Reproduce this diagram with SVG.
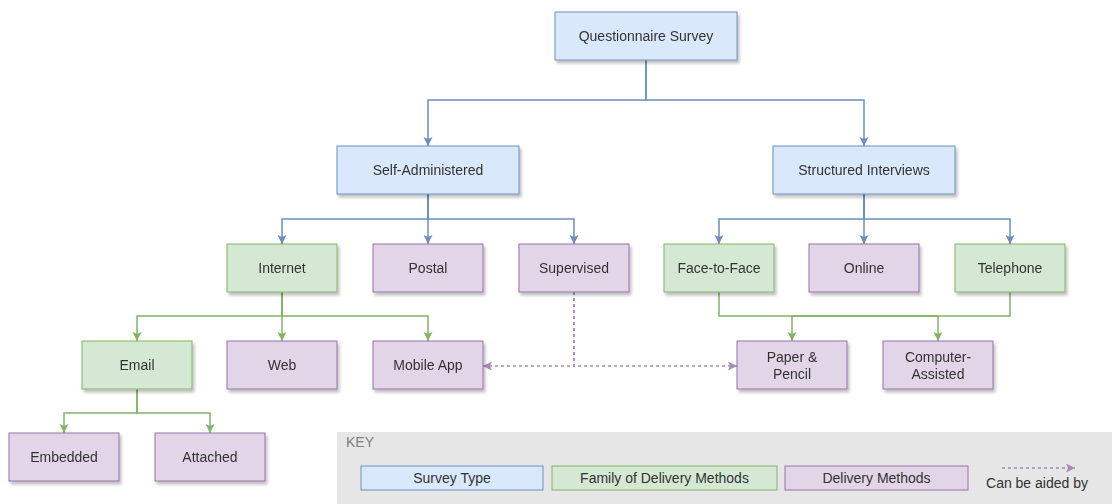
<svg xmlns="http://www.w3.org/2000/svg" width="1112" height="504" viewBox="0 0 1112 504">
<style>
text{font-family:"Liberation Sans",Arial,sans-serif;font-size:14px;fill:#333333;text-anchor:middle;dominant-baseline:central}
.blue{fill:#dae8fc;stroke:#6c8ebf;stroke-width:1}
.green{fill:#d5e8d4;stroke:#82b366;stroke-width:1}
.purple{fill:#e1d5e7;stroke:#9673a6;stroke-width:1}
.node{filter:url(#sh)}
.eb{fill:none;stroke:#6c8ebf;stroke-width:1.5;marker-end:url(#ab)}
.eg{fill:none;stroke:#82b366;stroke-width:1.5;marker-end:url(#ag)}
.ep{fill:none;stroke:#a68bb8;stroke-width:1.5;stroke-dasharray:3 3;marker-end:url(#ap)}
.key{fill:#e6e6e6}
.keylabel{fill:#808080;text-anchor:start}
</style>
<defs>
<filter id="sh" x="-10%" y="-10%" width="130%" height="140%">
<feDropShadow dx="2" dy="3" stdDeviation="1.5" flood-color="#000" flood-opacity="0.25"/>
</filter>
<marker id="ab" markerUnits="userSpaceOnUse" markerWidth="10" markerHeight="10" refX="9" refY="4.5" orient="auto"><path d="M0,0 L9,4.5 L0,9 L2,4.5 z" fill="#6c8ebf"/></marker>
<marker id="ag" markerUnits="userSpaceOnUse" markerWidth="10" markerHeight="10" refX="9" refY="4.5" orient="auto"><path d="M0,0 L9,4.5 L0,9 L2,4.5 z" fill="#82b366"/></marker>
<marker id="ap" markerUnits="userSpaceOnUse" markerWidth="10" markerHeight="10" refX="9" refY="4.5" orient="auto"><path d="M0,0 L9,4.5 L0,9 L2,4.5 z" fill="#a68bb8"/></marker>
</defs>

<g id="key">
<rect class="key" x="337" y="432" width="775" height="72"/>
<text class="keylabel" x="346" y="442">KEY</text>
<rect class="blue" x="361" y="466" width="182" height="24"/>
<text x="452" y="478">Survey Type</text>
<rect class="green" x="552" y="466" width="225" height="24"/>
<text x="664.5" y="478">Family of Delivery Methods</text>
<rect class="purple" x="785" y="466" width="183" height="24"/>
<text x="876.5" y="478">Delivery Methods</text>
<path class="ep" d="M1002 468 H1075"/>
<text x="1037" y="483">Can be aided by</text>
</g>

<g id="connectors">
<path class="eb" d="M646 60 V100 H428 V146"/>
<path class="eb" d="M646 60 V100 H864 V146"/>
<path class="eb" d="M428 194 V219 H282 V244"/>
<path class="eb" d="M428 194 V244"/>
<path class="eb" d="M428 194 V219 H574 V244"/>
<path class="eb" d="M864 194 V219 H719 V244"/>
<path class="eb" d="M864 194 V244"/>
<path class="eb" d="M864 194 V219 H1010 V244"/>
<path class="eg" d="M282 292 V316 H137 V341"/>
<path class="eg" d="M282 292 V341"/>
<path class="eg" d="M282 292 V316 H428 V341"/>
<path class="eg" d="M719 292 V316 H938 V341"/>
<path class="eg" d="M1010 292 V316 H792 V341"/>
<path class="eg" d="M137 389 V413 H64 V433"/>
<path class="eg" d="M137 389 V413 H210 V433"/>
<path class="ep" d="M574 292 V366 H483"/>
<path class="ep" d="M574 292 V366 H737"/>
</g>

<g id="questionnaire-survey" class="node"><rect class="blue" x="555" y="12" width="182" height="48"/><text x="646" y="36">Questionnaire Survey</text></g>
<g id="self-administered" class="node"><rect class="blue" x="337" y="146" width="182" height="48"/><text x="428" y="170">Self-Administered</text></g>
<g id="structured-interviews" class="node"><rect class="blue" x="773" y="146" width="182" height="48"/><text x="864" y="170">Structured Interviews</text></g>

<g id="internet" class="node"><rect class="green" x="227" y="244" width="110" height="48"/><text x="282" y="268">Internet</text></g>
<g id="postal" class="node"><rect class="purple" x="373" y="244" width="110" height="48"/><text x="428" y="268">Postal</text></g>
<g id="supervised" class="node"><rect class="purple" x="519" y="244" width="110" height="48"/><text x="574" y="268">Supervised</text></g>
<g id="face-to-face" class="node"><rect class="green" x="664" y="244" width="110" height="48"/><text x="719" y="268">Face-to-Face</text></g>
<g id="online" class="node"><rect class="purple" x="809" y="244" width="110" height="48"/><text x="864" y="268">Online</text></g>
<g id="telephone" class="node"><rect class="green" x="955" y="244" width="110" height="48"/><text x="1010" y="268">Telephone</text></g>

<g id="email" class="node"><rect class="green" x="82" y="341" width="110" height="48"/><text x="137" y="365">Email</text></g>
<g id="web" class="node"><rect class="purple" x="227" y="341" width="110" height="48"/><text x="282" y="365">Web</text></g>
<g id="mobile-app" class="node"><rect class="purple" x="373" y="341" width="110" height="48"/><text x="428" y="365">Mobile App</text></g>
<g id="paper-pencil" class="node"><rect class="purple" x="737" y="341" width="110" height="48"/><text x="792" y="356.5">Paper &amp;</text><text x="792" y="373.5">Pencil</text></g>
<g id="computer-assisted" class="node"><rect class="purple" x="883" y="341" width="110" height="48"/><text x="938" y="356.5">Computer-</text><text x="938" y="373.5">Assisted</text></g>

<g id="embedded" class="node"><rect class="purple" x="9" y="433" width="110" height="48"/><text x="64" y="457">Embedded</text></g>
<g id="attached" class="node"><rect class="purple" x="155" y="433" width="110" height="48"/><text x="210" y="457">Attached</text></g>
</svg>
